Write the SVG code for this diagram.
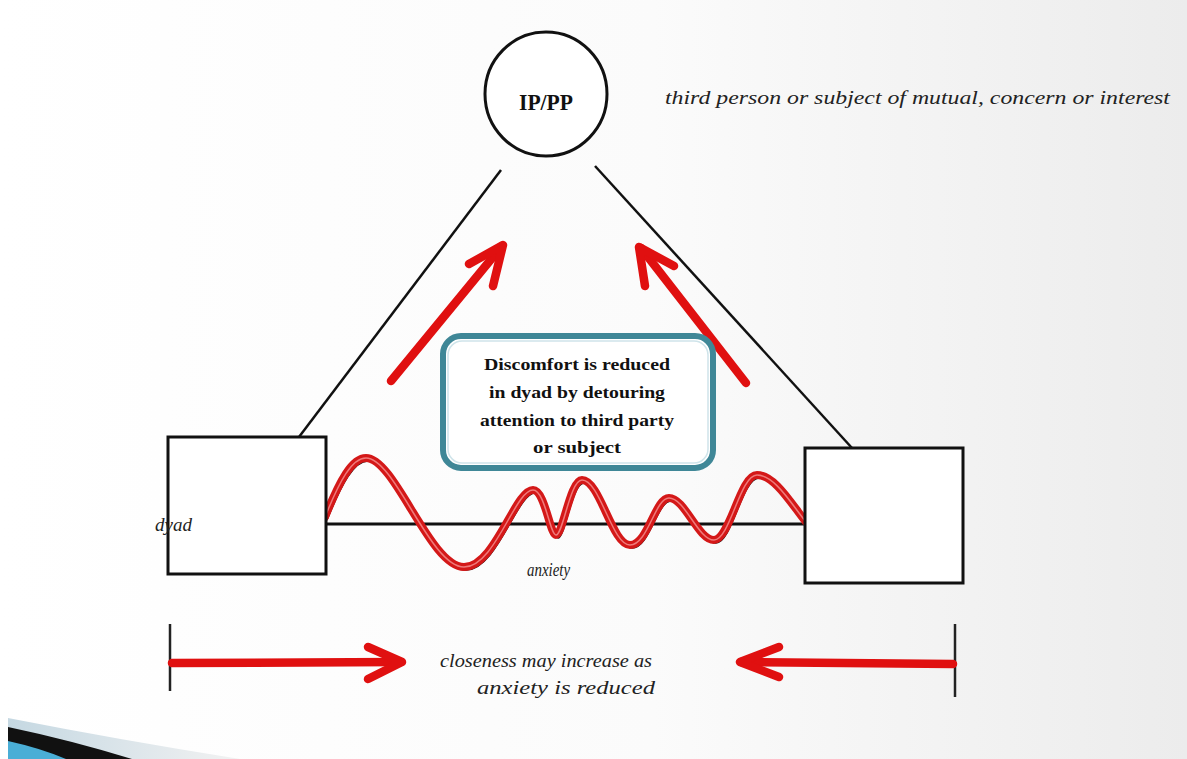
<svg xmlns="http://www.w3.org/2000/svg" width="1187" height="759" viewBox="0 0 1187 759">
  <defs>
    <linearGradient id="bg" x1="0" y1="0" x2="1" y2="0">
      <stop offset="0" stop-color="#ffffff"/>
      <stop offset="0.55" stop-color="#fbfbfb"/>
      <stop offset="1" stop-color="#ececec"/>
    </linearGradient>
    <linearGradient id="swoosh" x1="0" y1="0" x2="1" y2="0">
      <stop offset="0" stop-color="#c5d8e2"/>
      <stop offset="1" stop-color="#f2f2f2"/>
    </linearGradient>
    <style>
      .outline { fill: #ffffff; stroke: #111111; stroke-width: 3; }
      .edge { fill: none; stroke: #111111; stroke-width: 2.5; }
      .red { fill: none; stroke: #e01010; stroke-width: 8.5; stroke-linecap: round; stroke-linejoin: round; }
      .tick { fill: none; stroke: #222222; stroke-width: 2.5; }
      .ital { font-family: "Liberation Serif", "Times New Roman", serif; font-style: italic; font-size: 19px; fill: #222222; }
      .bold { font-family: "Liberation Serif", "Times New Roman", serif; font-weight: bold; font-size: 17px; fill: #111111; text-anchor: middle; }
    </style>
  </defs>

  <rect x="0" y="0" width="1187" height="759" fill="url(#bg)"/>

  <!-- bottom-left decorative swoosh -->
  <path d="M8,718 Q120,740 240,759 L8,759 Z" fill="url(#swoosh)"/>
  <path d="M8,727 Q70,740 132,759 L8,759 Z" fill="#111111"/>
  <path d="M8,741 Q40,748 66,759 L8,759 Z" fill="#4aaed6"/>

  <g id="connectors">
    <line class="edge" x1="501" y1="170" x2="299" y2="437"/>
    <line class="edge" x1="595" y1="166" x2="852" y2="448"/>
    <line x1="326" y1="524" x2="805" y2="524" stroke="#111111" stroke-width="3"/>
    <!-- anxiety wave -->
    <path d="M327,520 C342,483 354,461 368,461 C397,461 432,570 466,570 C497,570 517,493 535,493 C547,493 552,538 558,538 C565,538 572,483 584,483 C602,483 614,548 632,548 C650,548 657,501 671,501 C687,501 700,543 716,543 C732,543 742,478 759,478 C777,478 794,508 808,525" fill="none" stroke="#111111" stroke-width="1.5"/>
    <path d="M325,517 C340,480 352,458 366,458 C395,458 430,567 464,567 C495,567 515,490 533,490 C545,490 550,535 556,535 C563,535 570,480 582,480 C600,480 612,545 630,545 C648,545 655,498 669,498 C685,498 698,540 714,540 C730,540 740,475 757,475 C775,475 792,505 806,522" fill="none" stroke="#d41818" stroke-width="8" stroke-linecap="round"/>
    <path d="M325,517 C340,480 352,458 366,458 C395,458 430,567 464,567 C495,567 515,490 533,490 C545,490 550,535 556,535 C563,535 570,480 582,480 C600,480 612,545 630,545 C648,545 655,498 669,498 C685,498 698,540 714,540 C730,540 740,475 757,475 C775,475 792,505 806,522" fill="none" stroke="#ef7a7a" stroke-width="1.5"/>
    <!-- diagonal red arrows -->
    <line class="red" x1="391" y1="381" x2="502" y2="246"/>
    <polyline class="red" points="469,264 503,245 493,286"/>
    <line class="red" x1="746" y1="383" x2="641" y2="248"/>
    <polyline class="red" points="645,286 639,247 674,266"/>
    <!-- bottom arrows -->
    <line class="tick" x1="170" y1="624" x2="170" y2="691"/>
    <line class="tick" x1="955" y1="624" x2="955" y2="697"/>
    <line class="red" x1="172" y1="663" x2="401" y2="662"/>
    <polyline class="red" points="368,647 402,662 368,679"/>
    <line class="red" x1="953" y1="664" x2="741" y2="662"/>
    <polyline class="red" points="779,647 740,662 779,677"/>
  </g>

  <g id="node-ippp">
    <ellipse class="outline" cx="546" cy="94" rx="61" ry="62"/>
    <text x="546" y="110" font-family="Liberation Serif, Times New Roman, serif" font-weight="bold" font-size="24" text-anchor="middle" fill="#111111" textLength="54" lengthAdjust="spacingAndGlyphs">IP/PP</text>
  </g>
  <text class="ital" x="665" y="104" textLength="505" lengthAdjust="spacingAndGlyphs">third person or subject of mutual, concern or interest</text>

  <g id="node-left">
    <rect class="outline" x="168" y="437" width="158" height="137"/>
  </g>
  <text class="ital" x="155" y="531" textLength="37" lengthAdjust="spacingAndGlyphs">dyad</text>

  <g id="node-right">
    <rect class="outline" x="805" y="448" width="158" height="135"/>
  </g>

  <text class="ital" x="527" y="576" textLength="43" lengthAdjust="spacingAndGlyphs">anxiety</text>

  <g id="node-note">
    <rect x="443" y="336" width="270" height="132" rx="18" ry="18" fill="#ffffff" stroke="#3f8797" stroke-width="6"/>
    <rect x="448" y="341" width="260" height="122" rx="14" ry="14" fill="none" stroke="#cfe4ea" stroke-width="1.5"/>
    <text class="bold" x="577" y="370" textLength="186" lengthAdjust="spacingAndGlyphs">Discomfort is reduced</text>
    <text class="bold" x="577" y="398" textLength="176" lengthAdjust="spacingAndGlyphs">in dyad by detouring</text>
    <text class="bold" x="577" y="426" textLength="194" lengthAdjust="spacingAndGlyphs">attention to third party</text>
    <text class="bold" x="577" y="453" textLength="88" lengthAdjust="spacingAndGlyphs">or subject</text>
  </g>

  <text class="ital" x="440" y="667" textLength="212" lengthAdjust="spacingAndGlyphs">closeness may increase as</text>
  <text class="ital" x="477" y="694" textLength="178" lengthAdjust="spacingAndGlyphs">anxiety is reduced</text>
</svg>
